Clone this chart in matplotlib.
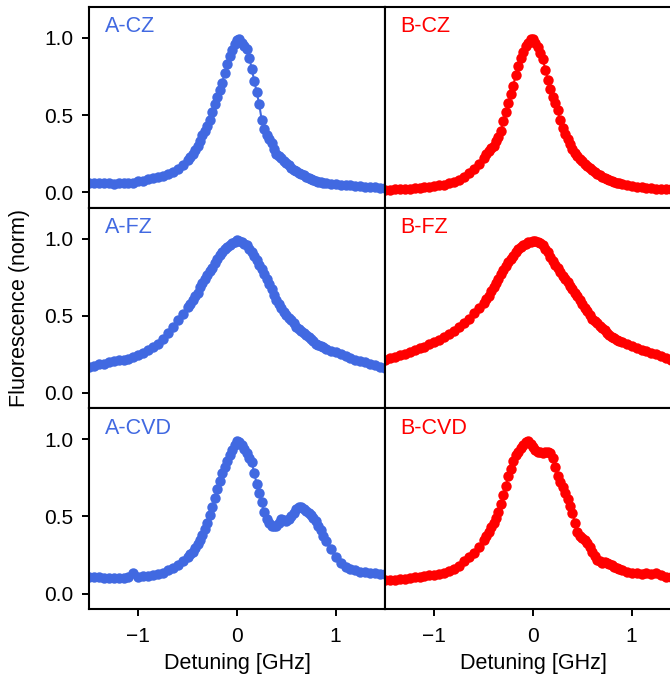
import matplotlib
matplotlib.use("Agg")
import matplotlib.pyplot as plt

plt.rcParams['font.family'] = ['Liberation Sans', 'DejaVu Sans']

# detuning in GHz: 0.05 steps in the wings, 0.025 steps across the peaks
detuning = ([round(-1.5 + 0.05 * i, 3) for i in range(20)]
            + [round(-0.5 + 0.025 * i, 3) for i in range(57)]
            + [round(0.95 + 0.05 * i, 3) for i in range(12)])

a_cz = ([0.058, 0.058, 0.057, 0.058, 0.057, 0.056, 0.058, 0.058, 0.060, 0.063,
         0.070, 0.076, 0.085, 0.095, 0.100, 0.108, 0.120, 0.130, 0.150, 0.175]
        + [0.21, 0.23, 0.25, 0.275, 0.30, 0.335, 0.37, 0.40, 0.43, 0.47,
           0.52, 0.57, 0.62, 0.665, 0.71, 0.77, 0.83, 0.88, 0.92, 0.96,
           0.985, 0.995, 0.97, 0.95, 0.93, 0.87, 0.80, 0.72, 0.65, 0.57,
           0.47, 0.41, 0.37, 0.345, 0.32, 0.28, 0.25, 0.235, 0.22, 0.205,
           0.19, 0.175, 0.16, 0.147, 0.135, 0.126, 0.118, 0.109, 0.10, 0.092,
           0.085, 0.078, 0.072, 0.068, 0.065, 0.061, 0.058]
        + [0.055, 0.052, 0.048, 0.046, 0.044, 0.042, 0.040, 0.037, 0.035, 0.032,
           0.030, 0.028])
b_cz = ([0.015, 0.016, 0.018, 0.019, 0.021, 0.023, 0.026, 0.029, 0.032, 0.036,
         0.040, 0.045, 0.050, 0.057, 0.068, 0.080, 0.100, 0.125, 0.150, 0.180]
        + [0.22, 0.245, 0.265, 0.285, 0.30, 0.33, 0.36, 0.40, 0.46, 0.52,
           0.58, 0.635, 0.69, 0.76, 0.82, 0.87, 0.91, 0.945, 0.97, 0.99,
           0.995, 0.965, 0.94, 0.90, 0.86, 0.795, 0.73, 0.67, 0.62, 0.575,
           0.53, 0.47, 0.415, 0.38, 0.345, 0.31, 0.28, 0.255, 0.235, 0.215,
           0.20, 0.185, 0.17, 0.157, 0.145, 0.132, 0.12, 0.11, 0.10, 0.092,
           0.085, 0.078, 0.072, 0.067, 0.062, 0.058, 0.054]
        + [0.047, 0.040, 0.036, 0.032, 0.029, 0.026, 0.024, 0.022, 0.020, 0.019,
           0.018, 0.017])
a_fz = ([0.165, 0.175, 0.185, 0.190, 0.198, 0.205, 0.210, 0.215, 0.222, 0.233,
         0.245, 0.260, 0.278, 0.298, 0.320, 0.350, 0.390, 0.430, 0.470, 0.510]
        + [0.555, 0.578, 0.60, 0.625, 0.65, 0.685, 0.715, 0.74, 0.765, 0.79,
           0.81, 0.84, 0.87, 0.895, 0.915, 0.93, 0.945, 0.96, 0.97, 0.98,
           0.99, 0.985, 0.975, 0.965, 0.955, 0.935, 0.91, 0.885, 0.86, 0.83,
           0.80, 0.77, 0.74, 0.705, 0.67, 0.635, 0.60, 0.575, 0.55, 0.527,
           0.505, 0.487, 0.47, 0.45, 0.43, 0.415, 0.40, 0.387, 0.375, 0.362,
           0.35, 0.335, 0.32, 0.312, 0.305, 0.295, 0.285]
        + [0.270, 0.262, 0.250, 0.237, 0.225, 0.216, 0.207, 0.198, 0.190, 0.180,
           0.170, 0.163])
b_fz = ([0.215, 0.225, 0.235, 0.245, 0.255, 0.265, 0.278, 0.290, 0.300, 0.315,
         0.330, 0.345, 0.365, 0.380, 0.400, 0.425, 0.455, 0.480, 0.515, 0.550]
        + [0.585, 0.607, 0.63, 0.657, 0.685, 0.712, 0.74, 0.768, 0.795, 0.82,
           0.845, 0.868, 0.89, 0.91, 0.93, 0.943, 0.955, 0.965, 0.975, 0.98,
           0.985, 0.985, 0.98, 0.97, 0.96, 0.935, 0.91, 0.88, 0.855, 0.83,
           0.81, 0.785, 0.76, 0.74, 0.72, 0.695, 0.67, 0.647, 0.625, 0.60,
           0.575, 0.552, 0.53, 0.505, 0.48, 0.465, 0.45, 0.435, 0.42, 0.405,
           0.39, 0.377, 0.365, 0.355, 0.345, 0.337, 0.33]
        + [0.315, 0.305, 0.290, 0.280, 0.270, 0.260, 0.250, 0.238, 0.225, 0.215,
           0.207, 0.200])
a_cvd = ([0.110, 0.108, 0.105, 0.103, 0.100, 0.100, 0.100, 0.102, 0.105, 0.135,
          0.110, 0.112, 0.115, 0.120, 0.125, 0.135, 0.150, 0.165, 0.185, 0.210]
         + [0.24, 0.255, 0.27, 0.295, 0.32, 0.35, 0.38, 0.42, 0.46, 0.51,
            0.56, 0.62, 0.68, 0.73, 0.78, 0.82, 0.86, 0.90, 0.93, 0.96,
            0.99, 0.98, 0.96, 0.935, 0.91, 0.88, 0.85, 0.78, 0.71, 0.65,
            0.59, 0.53, 0.48, 0.455, 0.44, 0.435, 0.44, 0.46, 0.48, 0.475,
            0.47, 0.485, 0.50, 0.525, 0.55, 0.56, 0.56, 0.55, 0.535, 0.525,
            0.51, 0.49, 0.47, 0.44, 0.41, 0.375, 0.34]
         + [0.290, 0.240, 0.200, 0.175, 0.160, 0.150, 0.140, 0.137, 0.133, 0.130,
            0.128, 0.127])
b_cvd = ([0.085, 0.088, 0.090, 0.093, 0.097, 0.100, 0.108, 0.110, 0.115, 0.118,
          0.122, 0.128, 0.135, 0.145, 0.160, 0.180, 0.210, 0.235, 0.260, 0.300]
         + [0.345, 0.37, 0.40, 0.43, 0.455, 0.49, 0.53, 0.58, 0.64, 0.70,
            0.76, 0.81, 0.86, 0.895, 0.92, 0.94, 0.96, 0.98, 0.99, 0.97,
            0.95, 0.93, 0.92, 0.915, 0.91, 0.915, 0.92, 0.91, 0.88, 0.82,
            0.76, 0.72, 0.69, 0.65, 0.61, 0.565, 0.52, 0.46, 0.40, 0.375,
            0.36, 0.345, 0.33, 0.30, 0.27, 0.245, 0.22, 0.21, 0.20, 0.205,
            0.20, 0.19, 0.185, 0.175, 0.165, 0.158, 0.15]
         + [0.140, 0.130, 0.130, 0.128, 0.130, 0.128, 0.130, 0.118, 0.110, 0.105,
            0.100, 0.100])

panels = [[("A-CZ", a_cz), ("B-CZ", b_cz)],
          [("A-FZ", a_fz), ("B-FZ", b_fz)],
          [("A-CVD", a_cvd), ("B-CVD", b_cvd)]]
colors = ["royalblue", "red"]

fig, axes = plt.subplots(3, 2, figsize=(6.7, 6.75), dpi=100)
fig.subplots_adjust(left=0.1328, right=1.0164, top=0.9896, bottom=0.0978,
                    hspace=0, wspace=0)

for r in range(3):
    for c in range(2):
        ax = axes[r, c]
        name, vals = panels[r][c]
        col = colors[c]
        ax.plot(detuning, vals, '-', color=col, lw=1.5)
        ax.plot(detuning, vals, 'o', color=col, ms=7.5, mec='none')
        ax.set_xlim(-1.5, 1.5)
        ax.set_ylim(-0.1, 1.2)
        ax.set_xticks([-1, 0, 1])
        ax.set_yticks([0, 0.5, 1.0])
        ax.set_yticklabels(["0.0", "0.5", "1.0"])
        ax.text(0.053, 0.874, name, transform=ax.transAxes, color=col,
                fontsize=15.5, ha='left', va='baseline')
        for s in ax.spines.values():
            s.set_linewidth(1.5)
        ax.tick_params(axis='both', labelsize=15, width=1.4, length=5,
                       left=(c == 0), labelleft=(c == 0),
                       bottom=(r == 2), labelbottom=(r == 2))
        ax.tick_params(axis='x', pad=8)
        ax.tick_params(axis='y', pad=6)
        if r == 2:
            ax.set_xlabel("Detuning [GHz]", fontsize=15.5, labelpad=5)

fig.text(20 / 670, 0.5437, "Fluorescence (norm)", rotation=90,
         fontsize=15.5, ha='center', va='center')

plt.savefig("out.png", dpi=100)
